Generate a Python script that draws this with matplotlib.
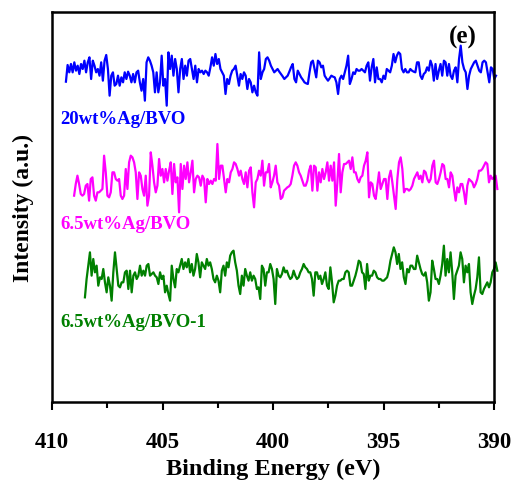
import numpy as np
import matplotlib
matplotlib.use("Agg")
import matplotlib.pyplot as plt
from matplotlib.ticker import MultipleLocator

plt.rcParams['font.family'] = ['Liberation Serif', 'DejaVu Serif']
plt.rcParams['font.weight'] = 'bold'

# ---- data (intensities in arbitrary units) ----
labels = ["20wt%Ag/BVO", "6.5wt%Ag/BVO", "6.5wt%Ag/BVO-1"]
colors = ["#0000FF", "#FF00FF", "#008000"]

blue_range = (409.37, 389.91)
blue = [142, 192, 170, 195, 170, 200, 175, 190, 165, 195, 180, 205, 170, 200, 215, 150, 205, 190,
        170, 180, 160, 200, 145, 205, 222, 180, 100, 160, 170, 130, 135, 160, 130, 155, 140, 170,
        150, 172, 160, 140, 165, 140, 170, 175, 140, 115, 150, 85, 200, 215, 205, 190, 170, 110,
        170, 110, 140, 220, 130, 150, 70, 230, 180, 220, 160, 210, 180, 110, 180, 210, 150, 190,
        160, 205, 210, 180, 150, 190, 140, 180, 170, 175, 165, 175, 170, 160, 185, 215, 190, 225,
        195, 210, 180, 170, 160, 105, 150, 135, 160, 175, 180, 190, 160, 130, 165, 150, 170, 160,
        120, 150, 140, 110, 130, 110, 100, 230, 150, 170, 180, 210, 215, 205,
        190, 180, 170, 175, 180, 172, 165, 158, 150, 155, 160, 172, 185, 195, 150, 140, 175, 165,
        155, 148, 140, 137, 135, 170, 200, 205, 180, 155, 205, 200, 185, 190, 160, 152, 145, 152,
        160, 157, 155, 140, 105, 150, 160, 150, 170, 190, 220, 135, 150, 170, 165, 180, 175, 175,
        180, 175, 170, 190, 200, 145, 185, 210, 140, 185, 150, 150, 140, 160, 150, 180, 175, 170,
        190, 225, 200, 220, 230, 225, 180, 170, 180, 170, 170, 180, 175, 172, 170, 200, 200, 160,
        150, 165, 170, 185, 175, 205, 190, 145, 195, 150, 175, 195, 160, 205, 200, 160, 195, 160,
        150, 175, 185, 140, 210, 250, 200, 180, 170, 120, 160, 180, 190, 200, 205, 190, 175, 170,
        200, 205, 200, 170, 140, 185, 180, 150, 160]

magenta_range = (409.00, 389.85)
magenta = [100, 135, 160, 135, 105, 100, 105, 130, 135, 85, 150, 155, 100, 85, 110, 110, 115, 120,
           220, 170, 100, 95, 110, 170, 170, 150, 145, 150, 100, 90, 100, 180, 120, 200, 220, 215,
           200, 170, 90, 170, 160, 120, 100, 160, 70, 100, 230, 190, 140, 110, 130, 210, 160, 180,
           140, 180, 145, 175, 200, 105, 195, 140, 155, 50, 195, 120, 190, 150, 200, 140, 170, 205,
           110, 150, 160, 155, 130, 160, 150, 80, 150, 135, 145, 135, 150, 145, 255, 150, 190, 190,
           150, 110, 150, 140, 170, 180, 200, 195, 180, 160, 175, 150, 135, 170, 125, 175, 185, 110,
           65, 140, 150, 175, 160, 205, 130, 170, 170, 195, 125,
           140, 160, 190, 140, 130, 90, 95, 115, 120, 125, 128, 135, 160, 190, 200, 190, 170, 160,
           145, 130, 130, 145, 175, 190, 115, 190, 185, 115, 170, 140, 180, 150, 170, 200, 145, 190,
           145, 200, 70, 140, 225, 110, 170, 195, 195, 200, 205, 180, 215, 170, 170, 150, 140, 155,
           160, 190, 205, 230, 95, 140, 135, 100, 90, 130, 170, 120, 135, 150, 150, 90, 155, 175,
           140, 100, 60, 150, 200, 215, 180, 110, 120, 120, 115, 120, 130, 150, 160, 170, 150, 160,
           140, 175, 170, 150, 140, 150, 190, 205, 140, 135, 150, 170, 195, 190, 150, 150, 125, 170,
           160, 120, 85, 125, 110, 135, 135, 110, 75, 130, 150, 145, 140, 125, 135, 150, 175, 175,
           180, 190, 200, 195, 140, 160, 150, 155, 160, 120]

green_range = (408.51, 389.85)
green = [125, 180, 220, 260, 190, 240, 200, 220, 160, 185, 180, 210, 170, 140, 185, 160, 115, 200,
         260, 210, 160, 155, 170, 170, 200, 205, 150, 205, 140, 190, 200, 180, 190, 220, 190, 205,
         190, 220, 225, 190, 195, 200, 190, 185, 165, 200, 180, 190, 140, 160, 135, 115, 220, 180,
         155, 210, 200, 220, 240, 210, 230, 215, 240, 200, 225, 190, 210, 255, 230, 185, 230, 220,
         210, 240, 220, 230, 210, 180, 170, 190, 175, 140, 205, 220, 190, 230, 215, 250, 260, 265,
         230, 205, 160, 135, 190, 160, 210, 190, 175, 200, 175, 190, 180, 150, 155, 120, 220, 210,
         160, 200, 200, 225,
         210, 180, 105, 210, 190, 185, 195, 215, 200, 205, 190, 180, 185, 205, 190, 180, 185, 200,
         210, 225, 215, 210, 200, 200, 180, 130, 200, 200, 180, 190, 165, 180, 200, 160, 150, 215,
         170, 110, 130, 160, 175, 175, 180, 180, 200, 205, 200, 160, 160, 175, 190, 210, 235, 230,
         200, 195, 150, 225, 175, 190, 190, 205, 200, 185, 180, 180, 175, 175, 180, 185, 205, 235,
         255, 275, 260, 225, 255, 210, 230, 185, 165, 210, 200, 220, 220, 210, 210, 250, 230, 210,
         195, 190, 200, 170, 115, 140, 235, 210, 180, 180, 165, 190, 225, 280, 190, 240, 200, 260,
         200, 120, 190, 205, 220, 260, 240, 170, 220, 200, 225, 140, 105, 130, 150, 185, 245, 140,
         135, 150, 160, 170, 155, 170, 200, 210, 230, 205]

series = [(blue_range, blue), (magenta_range, magenta), (green_range, green)]

# ---- layout / style ----
offsets = [819, 519, 189]
W, H = 515, 481
fig = plt.figure(figsize=(W / 100, H / 100), dpi=100)
ax = fig.add_axes([52 / W, (H - 403) / H, (494 - 52) / W, (403 - 13) / H])

for (rng, vals), off, c in zip(series, offsets, colors):
    e = np.linspace(rng[0], rng[1], len(vals))
    ax.plot(e, np.array(vals) + off, color=c, lw=1.6, clip_on=False)

ax.set_xlim(410, 390)
ax.set_ylim(0, 1170)
ax.xaxis.set_major_locator(MultipleLocator(5))
ax.xaxis.set_minor_locator(MultipleLocator(2.5))
ax.tick_params(axis='x', which='major', direction='out', length=6, width=1.5,
               labelsize=16.5, pad=15)
ax.tick_params(axis='x', which='minor', direction='out', length=4, width=1.5)
ax.set_yticks([])
for s in ax.spines.values():
    s.set_linewidth(1.8)

ax.set_xlabel("Binding Energy (eV)", fontsize=17.5, fontweight='bold', labelpad=4)
ax.set_ylabel("Intensity (a.u.)", fontsize=17, fontweight='bold', labelpad=13)

label_y = [852, 534, 240]
for lab, y, c in zip(labels, label_y, colors):
    ax.text(409.64, y, lab, color=c, fontsize=13.5, fontweight='bold', ha='left', va='center')

ax.text(391.4, 1098, "(e)", fontsize=18, fontweight='bold', ha='center', va='center')

fig.savefig("out.png", dpi=100)
